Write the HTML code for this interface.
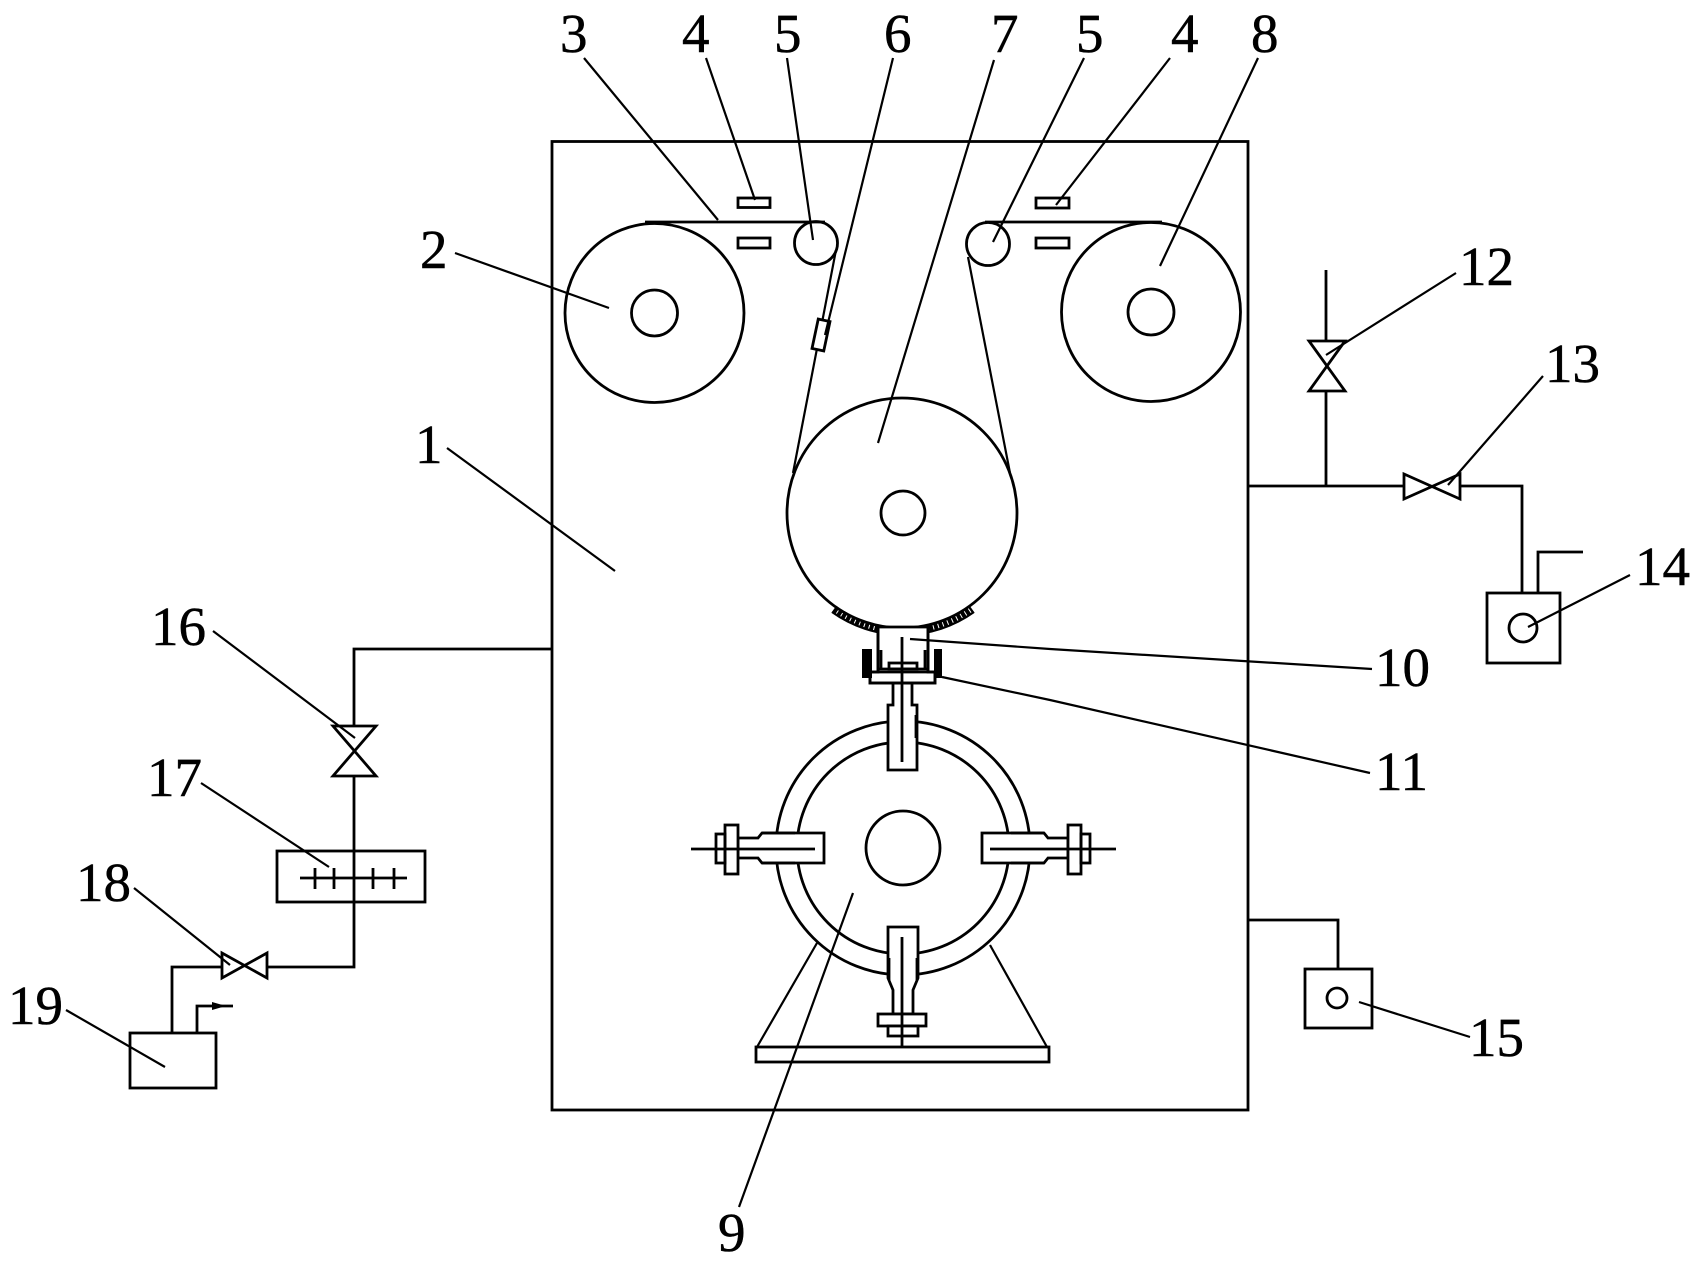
<!DOCTYPE html>
<html><head><meta charset="utf-8"><style>
html,body{margin:0;padding:0;background:#fff}
svg{display:block}
text{font-family:"Liberation Serif",serif;font-size:55px;fill:#000;stroke:#000;stroke-width:.5px}
.l{fill:none;stroke:#000;stroke-width:2.8}
.f{fill:#fff;stroke:#000;stroke-width:2.8}
.t{fill:none;stroke:#000;stroke-width:2.2}
.k{fill:#000;stroke:none}
</style></head><body>
<svg width="1696" height="1264" viewBox="0 0 1696 1264" xmlns="http://www.w3.org/2000/svg">
<rect class="l" x="552" y="141.500" width="696" height="968.500"/>
<!-- rollers -->
<circle class="l" cx="654.500" cy="313" r="89.500"/><circle class="l" cx="654.500" cy="313" r="23"/>
<circle class="l" cx="1151" cy="312" r="89.500"/><circle class="l" cx="1151" cy="312" r="23"/>
<circle class="l" cx="816" cy="243" r="21.500"/><circle class="l" cx="988" cy="244" r="21.500"/>
<path class="l" d="M645 222H825M985 222H1162"/>
<rect class="l" x="738" y="198" width="32" height="9.500"/><rect class="l" x="738" y="238" width="32" height="10"/>
<rect class="l" x="1036" y="198" width="33" height="10"/><rect class="l" x="1036" y="238" width="33" height="10"/>
<!-- web -->
<path class="t" d="M836 250L793 473M968 257L1010 473"/>
<rect class="f" x="815" y="320" width="12" height="30" transform="rotate(12 821 335)"/>
<circle class="l" cx="902" cy="513" r="115"/><circle class="l" cx="903" cy="513" r="22"/>
<!-- hatched pad -->
<path d="M834 609A118 118 0 0 0 972 609" fill="none" stroke="#000" stroke-width="8" stroke-dasharray="4 1"/>
<path d="M832 612A122 122 0 0 0 974 612" class="t"/>
<!-- drum -->
<path class="t" d="M817 943L757 1047M990 945L1047 1047"/>
<circle class="l" cx="903" cy="848" r="127"/><circle class="l" cx="903" cy="848" r="106"/>
<circle class="l" cx="903" cy="848" r="37"/>
<rect x="756" y="1047" width="293" height="15" class="f"/>
<!-- left clamp -->
<path class="f" d="M824 833H762L758 838H738V858H758L762 863H824Z"/>
<rect class="f" x="725" y="825" width="13" height="49"/>
<rect class="l" x="716" y="834" width="9" height="29"/>
<path class="l" d="M691 849H815"/>
<path d="M762 833H795M762 863H795" class="l" stroke-width="4"/>
<!-- right clamp -->
<path class="f" d="M982 833H1044L1048 838H1068V858H1048L1044 863H982Z"/>
<rect class="f" x="1068" y="825" width="13" height="49"/>
<rect class="l" x="1081" y="834" width="9" height="29"/>
<path class="l" d="M990 849H1116"/>
<path d="M1011 833H1044M1011 863H1044" class="l" stroke-width="4"/>
<!-- bottom clamp -->
<path class="f" d="M888 927H918V978L913 990V1014H893V990L888 978Z"/>
<rect class="f" x="878" y="1014" width="48" height="12"/>
<rect class="f" x="888" y="1026" width="30" height="10"/>
<path class="l" d="M902 937V1047"/>
<path class="l" stroke-width="4" d="M889 958V980M917 958V980"/>
<!-- top clamp -->
<path class="f" d="M893 683H912V705H917V770H888V705H893Z"/>
<path class="l" stroke-width="4" d="M916 715V738"/>
<path class="f" d="M878 627H928V672H935V683H870V672H878Z" stroke="none"/>
<path class="l" d="M878 627V672M928 627V672M870 672H935V683H870Z"/>
<path class="l" stroke-width="4" d="M881 650V668M925 650V668"/>
<path class="l" d="M878 669H928"/>
<rect class="l" x="889" y="663" width="28" height="6"/>
<rect class="k" x="862" y="649" width="10" height="29"/>
<rect class="k" x="934" y="649" width="8" height="29"/>
<path class="l" d="M902 637V762"/>
<!-- right pipes -->
<path class="l" d="M1248 486H1404M1460 486H1522V593M1326 270V341M1326 391V486M1538 593V552H1583"/>
<path class="f" d="M1309 341H1345L1309 391H1345Z"/>
<path class="f" d="M1404 474V499L1460 474V499Z"/>
<rect class="l" x="1487" y="593" width="73" height="70"/>
<circle class="l" cx="1523" cy="628" r="14"/>
<path class="l" d="M1248 920H1338V969"/>
<rect class="l" x="1305" y="969" width="67" height="59"/>
<circle class="l" cx="1337" cy="998" r="10"/>
<!-- left pipes -->
<path class="l" d="M551 649H354V725M354 776V967H267M222 967H172V1033M197 1033V1006H233"/>
<path class="k" d="M212 1002L226 1006L212 1010Z"/>
<path class="f" d="M333 726H376L333 776H376Z"/>
<path class="f" d="M222 953V978L267 953V978Z"/>
<rect class="l" x="277" y="851" width="148" height="51"/>
<path class="l" d="M300 878H407M315 868V889M334 868V889M373 868V889M394 868V889"/>
<rect class="l" x="130" y="1033" width="86" height="55"/>
<!-- leaders -->
<path class="t" d="M584 58L718 220M706 58L755 200M787 58L813 240M893 58L825 335M994 60L878 443M1084 58L993 242M1170 58L1056 205M1258 58L1160 266M455 253L609 308M447 448L615 571M213 631L355 738M201 783L329 867M134 888L230 965M66 1010L165 1067M1456 273L1326 355M1543 376L1448 485M1630 575L1528 627M910 639L1050 649L1372 669M942 677L1050 700L1370 773M1359 1002L1470 1037M853 893L739 1207"/>
<!-- labels -->
<text x="560" y="52">3</text>
<text x="682" y="52">4</text>
<text x="774" y="52">5</text>
<text x="884" y="52">6</text>
<text x="991" y="52">7</text>
<text x="1076" y="52">5</text>
<text x="1171" y="52">4</text>
<text x="1251" y="52">8</text>
<text x="420" y="268">2</text>
<text x="415" y="463">1</text>
<text x="151" y="645">16</text>
<text x="147" y="796">17</text>
<text x="76" y="901">18</text>
<text x="8" y="1024">19</text>
<text x="1459" y="285">12</text>
<text x="1545" y="382">13</text>
<text x="1635" y="585">14</text>
<text x="1375" y="686">10</text>
<text x="1375" y="790">11</text>
<text x="1469" y="1056">15</text>
<text x="718" y="1251">9</text>
</svg>
</body></html>
